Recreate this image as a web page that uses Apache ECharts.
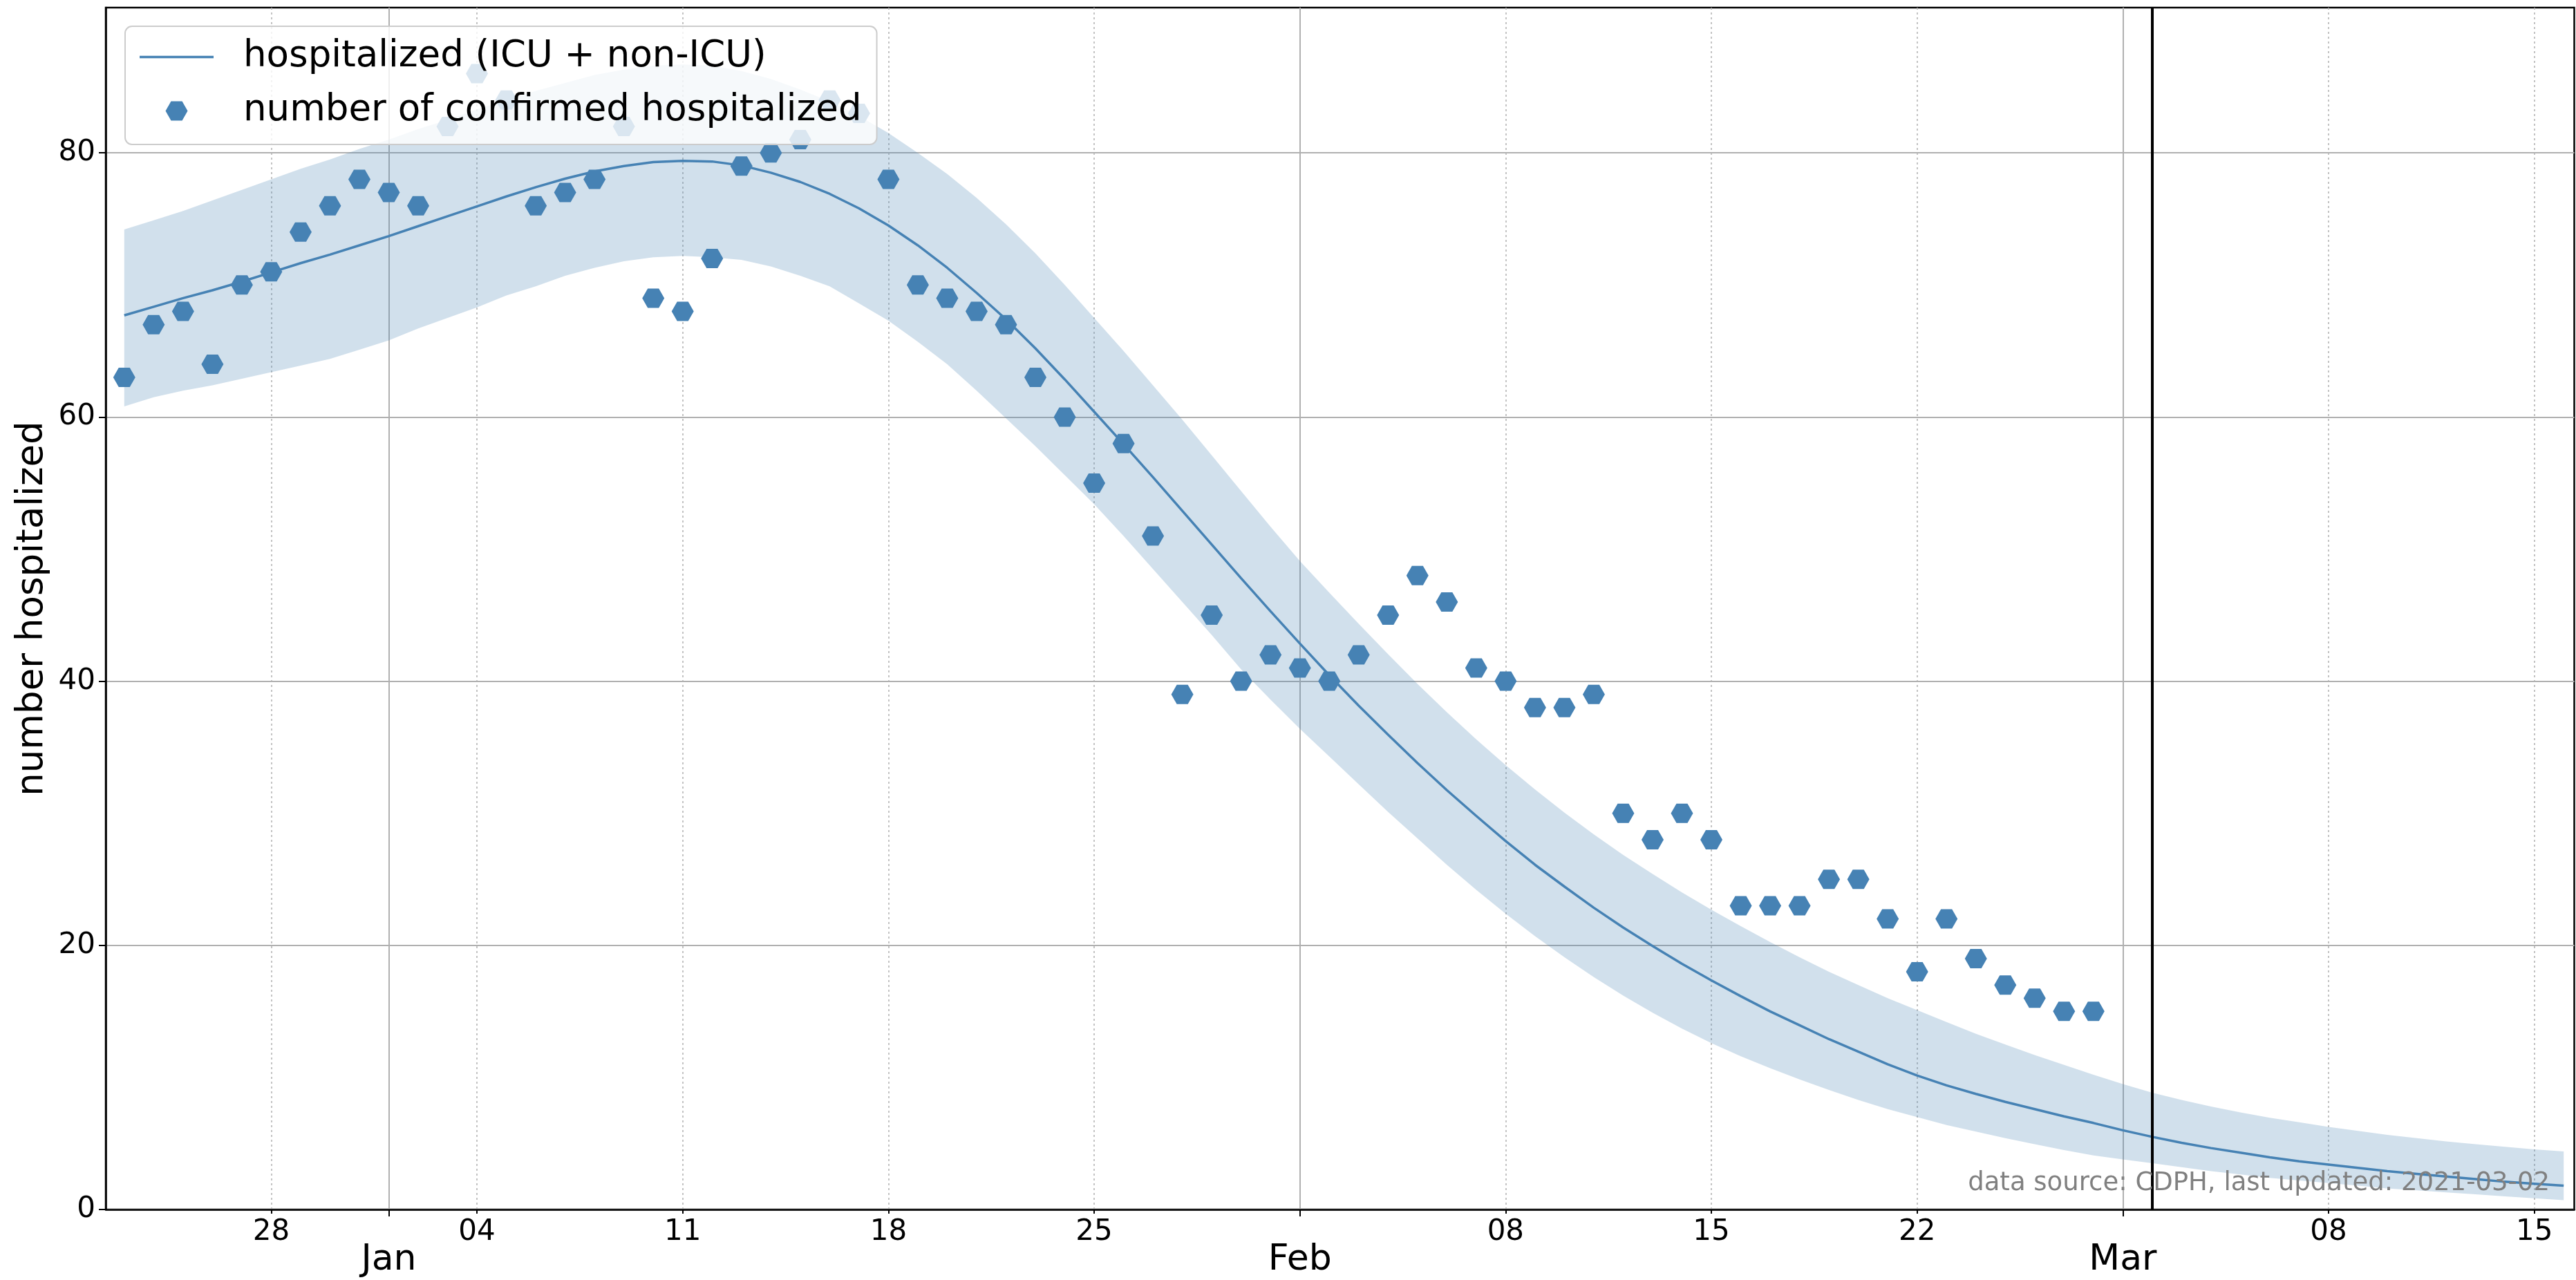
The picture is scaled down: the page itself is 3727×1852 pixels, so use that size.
<!DOCTYPE html>
<html><head><meta charset="utf-8">
<script src="https://cdn.jsdelivr.net/npm/echarts@6/dist/echarts.min.js"></script>
<style>html,body{margin:0;padding:0;background:#fff}#c{width:3727px;height:1852px}</style>
</head><body><div id="c"></div>
<script>
// ---------------- data ----------------
const startDate = '2020-12-23';            // first day of both series (daily)
const observed = [
  63,67,68,64,70,71,74,76,78,
  77,76,82,86,84,76,77,78,82,69,68,72,79,80,81,84,83,78,70,69,68,67,63,60,55,58,51,39,45,40,42,
  41,40,42,45,48,46,41,40,38,38,39,30,28,30,28,23,23,23,25,25,22,18,22,19,17,16,15,15
];
const fitted = [
  67.7,68.35,69.0,69.6,70.25,70.95,71.65,72.3,73.0,
  73.7,74.45,75.2,75.95,76.7,77.4,78.05,78.6,79.0,79.3,79.4,79.35,79.05,78.5,77.8,76.9,75.8,74.5,73.0,71.3,69.4,67.4,65.2,62.85,60.4,57.95,55.45,52.9,50.35,47.8,45.3,
  42.85,40.45,38.15,35.95,33.8,31.75,29.8,27.9,26.1,24.45,22.85,21.35,19.95,18.6,17.35,16.15,15.0,13.95,12.9,11.95,11.0,10.15,9.4,8.75,8.15,7.6,7.05,6.55,
  6.0,5.5,5.05,4.65,4.3,3.95,3.65,3.4,3.15,2.9,2.7,2.5,2.3,2.1,1.95,1.8
];
const upperBound = [
  74.2,74.9,75.6,76.4,77.2,78.0,78.8,79.5,80.3,
  81.0,81.8,82.5,83.3,84.0,84.7,85.3,85.9,86.3,86.6,86.7,86.6,86.2,85.6,84.8,83.9,82.8,81.5,80.0,78.4,76.6,74.6,72.4,70.0,67.5,65.0,62.4,59.8,57.1,54.4,51.7,
  49.1,46.7,44.35,42.05,39.8,37.65,35.6,33.65,31.8,30.05,28.4,26.85,25.4,24.0,22.7,21.45,20.25,19.1,18.0,17.0,16.0,15.1,14.2,13.3,12.5,11.7,10.95,10.2,
  9.5,8.85,8.3,7.8,7.35,6.95,6.6,6.25,5.95,5.65,5.4,5.15,4.95,4.75,4.55,4.4
];
const lowerBound = [
  60.8,61.5,62.0,62.4,62.9,63.4,63.9,64.4,65.1,
  65.8,66.7,67.5,68.3,69.2,69.9,70.7,71.3,71.8,72.1,72.2,72.1,71.9,71.4,70.7,69.9,68.6,67.3,65.7,64.0,62.0,59.9,57.8,55.6,53.4,51.0,48.5,46.0,43.5,40.9,38.6,
  36.4,34.3,32.2,30.1,28.1,26.1,24.2,22.4,20.7,19.1,17.6,16.2,14.9,13.7,12.6,11.6,10.7,9.85,9.05,8.3,7.6,7.0,6.4,5.9,5.4,4.95,4.5,4.1,
  3.8,3.5,3.2,2.9,2.65,2.4,2.2,2.0,1.8,1.6,1.45,1.3,1.15,1.0,0.85,0.7
];
const weekTickDates = ['2020-12-28','2021-01-04','2021-01-11','2021-01-18','2021-01-25','2021-02-08','2021-02-15','2021-02-22','2021-03-08','2021-03-15'];
const weekTickLabels = ['28','04','11','18','25','08','15','22','08','15'];
const monthTickDates = ['2021-01-01','2021-02-01','2021-03-01'];
const monthTickLabels = ['Jan','Feb','Mar'];
const yTickValues = [0,20,40,60,80];
const lastUpdated = '2021-03-02';
const seriesNames = ['hospitalized (ICU + non-ICU)', 'number of confirmed hospitalized'];
const yAxisTitle = 'number hospitalized';
const footnote = 'data source: CDPH, last updated: 2021-03-02';

// ---------------- helpers: x = days since 2021-01-01 ----------------
const DAY = 86400000;
function ts(s){ const p = s.split('-'); return Date.UTC(+p[0], +p[1]-1, +p[2]); }
const REF = ts('2021-01-01');
const dayNum = s => Math.round((ts(s) - REF) / DAY);
const d0 = dayNum(startDate);
const xOf = i => d0 + i;
const XMIN = -9.63, XMAX = 74.36;
const weekX = weekTickDates.map(dayNum), monthX = monthTickDates.map(dayNum);
function lookup(list, labels){ return v => { const i = list.findIndex(t => Math.abs(t - v) < 0.5); return i >= 0 ? labels[i] : ''; }; }

const C = '#4682b4';
const FONT = 'DejaVu Sans';
const HEX = 'path://M100,50 L75,93.3 L25,93.3 L0,50 L25,6.7 L75,6.7 Z';
// legend icons: bounding box 145x40 so the text starts where matplotlib puts it
const LEG_LINE = 'path://M0,0 M145,40 M0,18.2 L107,18.2 L107,21.8 L0,21.8 Z';
const LEG_HEX = 'path://M0,0 M145,40 M69.5,20 L61.5,33.9 L45.5,33.9 L37.5,20 L45.5,6.1 L61.5,6.1 Z';

const bandRows = upperBound.map((u, i) => [xOf(i), lowerBound[i], u]);

const chart = echarts.init(document.getElementById('c'), null, {renderer: 'canvas'});
chart.setOption({
  animation: false,
  backgroundColor: '#fff',
  textStyle: {fontFamily: FONT},
  grid: {left: 153, right: 2.5, top: 11, bottom: 102, show: true, borderColor: '#000', borderWidth: 2.5,
         backgroundColor: 'transparent', containLabel: false, outerBoundsMode: 'none'},
  legend: {
    show: true, orient: 'vertical', left: 181, top: 38, padding: [18, 22, 22, 21], itemGap: 25,
    itemWidth: 145, itemHeight: 40, selectedMode: false, z: 10,
    backgroundColor: 'rgba(255,255,255,0.8)', borderColor: '#cccccc', borderWidth: 2, borderRadius: 10,
    textStyle: {fontSize: 53, color: '#000', fontFamily: FONT},
    data: [
      {name: seriesNames[0], icon: LEG_LINE, itemStyle: {color: C, borderWidth: 0}},
      {name: seriesNames[1], icon: LEG_HEX, itemStyle: {color: C, borderWidth: 0}}
    ]
  },
  xAxis: [
    {
      type: 'value', min: XMIN, max: XMAX, position: 'bottom',
      axisLine: {show: true, onZero: false, lineStyle: {color: '#000', width: 2.5}},
      axisTick: {show: true, customValues: weekX, length: 6, lineStyle: {color: '#000', width: 2}},
      axisLabel: {show: true, customValues: weekX, formatter: lookup(weekX, weekTickLabels),
                  color: '#000', fontSize: 42, fontFamily: FONT, margin: 12, hideOverlap: false},
      splitLine: {show: true, lineStyle: {color: '#b0b0b0', width: 1.5, type: [3, 4]}},
      minorTick: {show: false}, minorSplitLine: {show: false}
    },
    {
      type: 'value', min: XMIN, max: XMAX, position: 'bottom',
      axisLine: {show: false, onZero: false},
      axisTick: {show: true, customValues: monthX, length: 10, lineStyle: {color: '#000', width: 2}},
      axisLabel: {show: true, customValues: monthX, formatter: lookup(monthX, monthTickLabels),
                  color: '#000', fontSize: 52, fontFamily: FONT, margin: 47, hideOverlap: false},
      splitLine: {show: true, lineStyle: {color: '#b0b0b0', width: 2, type: 'solid'}}
    }
  ],
  yAxis: {
    type: 'value', min: 0, max: 91,
    axisLine: {show: true, onZero: false, lineStyle: {color: '#000', width: 2.5}},
    axisTick: {show: true, customValues: yTickValues, length: 10, lineStyle: {color: '#000', width: 2}},
    axisLabel: {show: true, customValues: yTickValues, color: '#000', fontSize: 42, fontFamily: FONT, margin: 15},
    splitLine: {show: true, lineStyle: {color: '#b0b0b0', width: 2}},
    name: yAxisTitle, nameLocation: 'middle', nameGap: 79, nameRotate: 90, nameMoveOverlap: false,
    nameTextStyle: {fontSize: 53, color: '#000', fontFamily: FONT}
  },
  series: [
    {
      type: 'custom', name: '_band', xAxisIndex: 0, silent: true, z: 1,
      data: bandRows,
      encode: {x: 0, y: [1, 2]},
      renderItem: function (params, api) {
        if (params.dataIndex !== 0) return null;
        const pts = [];
        for (let i = 0; i < bandRows.length; i++) pts.push(api.coord([bandRows[i][0], bandRows[i][2]]));
        for (let i = bandRows.length - 1; i >= 0; i--) pts.push(api.coord([bandRows[i][0], bandRows[i][1]]));
        return {type: 'polygon', shape: {points: pts}, style: {fill: 'rgba(70,130,180,0.25)', stroke: null}};
      }
    },
    {
      type: 'line', name: seriesNames[0], xAxisIndex: 0, symbol: 'none', silent: true,
      data: fitted.map((v, i) => [xOf(i), v]),
      lineStyle: {color: C, width: 3.5}, itemStyle: {color: C}, z: 3,
      markLine: {
        silent: true, symbol: 'none', label: {show: false},
        lineStyle: {color: '#000', width: 4, type: 'solid'},
        data: [{xAxis: dayNum(lastUpdated)}]
      }
    },
    {
      type: 'scatter', name: seriesNames[1], xAxisIndex: 0, silent: true,
      symbol: HEX, symbolSize: [32, 28], symbolKeepAspect: false,
      data: observed.map((v, i) => [xOf(i), v]),
      itemStyle: {color: C, opacity: 1}, z: 4
    }
  ],
  graphic: [{
    type: 'text', right: 38, bottom: 121, z: 20,
    style: {text: footnote, fontSize: 37, fontFamily: FONT, fill: '#808080'}
  }]
});
</script></body></html>
